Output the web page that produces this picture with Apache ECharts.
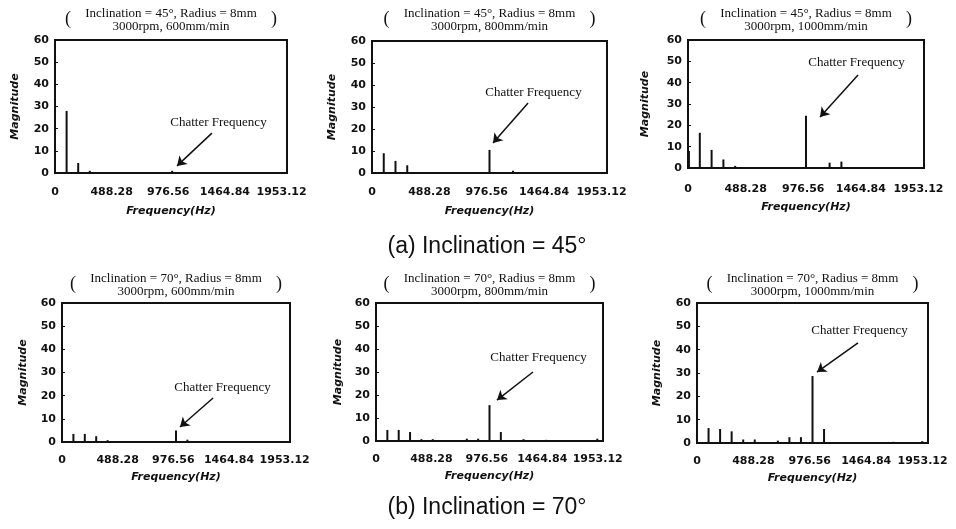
<!DOCTYPE html>
<html><head><meta charset="utf-8">
<script src="https://cdn.jsdelivr.net/npm/echarts@6/dist/echarts.min.js"></script>
<style>html,body{margin:0;padding:0;background:#fff}#c{width:956px;height:529px}</style>
</head><body><div id="c"></div>
<script>
// ---- data ----
const xTickValues = [0, 488.28, 976.56, 1464.84, 1953.12];
const xTickLabels = ['0', '488.28', '976.56', '1464.84', '1953.12'];
const yTickValues = [0, 10, 20, 30, 40, 50, 60];

const titleLine1 = [
  'Inclination = 45°, Radius = 8mm', 'Inclination = 45°, Radius = 8mm', 'Inclination = 45°, Radius = 8mm',
  'Inclination = 70°, Radius = 8mm', 'Inclination = 70°, Radius = 8mm', 'Inclination = 70°, Radius = 8mm'
];
const titleLine2 = [
  '3000rpm, 600mm/min', '3000rpm, 800mm/min', '3000rpm, 1000mm/min',
  '3000rpm, 600mm/min', '3000rpm, 800mm/min', '3000rpm, 1000mm/min'
];
const captions = ['(a) Inclination = 45°', '(b) Inclination = 70°'];
const xName = 'Frequency(Hz)';
const yName = 'Magnitude';
const chatterLabel = 'Chatter Frequency';

// spectra (frequency in Hz, magnitude)
const p1Freq = [100, 200, 300, 1010];
const p1Mag  = [28, 4.5, 1, 1];
const p2Freq = [100, 200, 300, 1000, 1200];
const p2Mag  = [9, 5.5, 3.5, 10.5, 1];
const p3Freq = [8, 100, 200, 300, 400, 1000, 1200, 1300];
const p3Mag  = [8, 16.5, 8.5, 4, 1, 24.5, 2.5, 3];
const p4Freq = [100, 200, 300, 400, 1000, 1100];
const p4Mag  = [3.5, 3.5, 2.5, 0.8, 5, 1];
const p5Freq = [100, 200, 300, 400, 500, 800, 900, 1000, 1100, 1300, 1500, 1950];
const p5Mag  = [4.8, 4.8, 3.9, 0.8, 0.8, 1, 1, 15.6, 3.9, 0.8, 0.5, 1];
const p6Freq = [100, 200, 300, 400, 500, 700, 800, 900, 1000, 1100, 1700, 1950];
const p6Mag  = [6.4, 6, 5, 1.5, 1.5, 1, 2.5, 2.5, 28.7, 6, 0.5, 0.8];

const freqs = [p1Freq, p2Freq, p3Freq, p4Freq, p5Freq, p6Freq];
const mags  = [p1Mag, p2Mag, p3Mag, p4Mag, p5Mag, p6Mag];

// ---- layout (pixels / data-unit annotation anchors) ----
const grids = [
  {left: 55,  top: 40,  width: 232, height: 133, lblMargin: 14, xGap: 33, yGap: 34},
  {left: 372, top: 41,  width: 235, height: 132, lblMargin: 14, xGap: 33, yGap: 34},
  {left: 688, top: 40,  width: 236, height: 128, lblMargin: 16, xGap: 34, yGap: 37},
  {left: 62,  top: 303, width: 228, height: 139, lblMargin: 13, xGap: 30, yGap: 33},
  {left: 376, top: 303, width: 227, height: 138, lblMargin: 13, xGap: 30, yGap: 32},
  {left: 697, top: 303, width: 231, height: 140, lblMargin: 13, xGap: 30, yGap: 34}
];
const notes = [
  {text: [1409, 22.6], from: [1353, 18],   to: [1052, 3.2]},
  {text: [1374, 36.4], from: [1328, 31.8], to: [1030, 13.6]},
  {text: [1428, 49.2], from: [1441, 43.6], to: [1119, 23.9]},
  {text: [1408, 23.7], from: [1325, 19],   to: [1035, 6.5]},
  {text: [1432, 36.1], from: [1383, 30],   to: [1066, 17.8]},
  {text: [1407, 48],   from: [1394, 42.9], to: [1039, 30.4]}
];
const titleY = [[14, 27], [279, 292]];
const captionY = [247, 508];
const captionX = 487;

const INK = '#111';
const serif = '"Liberation Serif", "DejaVu Serif", serif';
const sans = '"DejaVu Sans", sans-serif';

const option = {
  backgroundColor: '#fff',
  animation: false,
  grid: [], xAxis: [], yAxis: [], series: [], graphic: []
};

grids.forEach((g, i) => {
  option.grid.push({left: g.left, top: g.top, width: g.width, height: g.height,
    show: true, borderColor: INK, borderWidth: 2, backgroundColor: 'transparent'});
  option.xAxis.push({
    type: 'value', gridIndex: i, min: 0, max: 2000, interval: 488.28,
    name: xName, nameLocation: 'middle', nameGap: g.xGap,
    nameTextStyle: {fontFamily: sans, fontWeight: 'bold', fontStyle: 'italic', fontSize: 11, color: INK},
    axisLine: {show: true, lineStyle: {color: INK, width: 2}},
    axisTick: {show: false},
    splitLine: {show: false},
    axisLabel: {
      showMaxLabel: false, margin: g.lblMargin,
      fontFamily: sans, fontWeight: 'bold', fontSize: 11, color: INK,
      formatter: v => {
        const k = xTickValues.findIndex(t => Math.abs(t - v) < 0.01);
        return k >= 0 ? xTickLabels[k] : '';
      }
    }
  });
  option.yAxis.push({
    type: 'value', gridIndex: i, min: yTickValues[0], max: yTickValues[yTickValues.length - 1], interval: 10,
    name: yName, nameLocation: 'middle', nameGap: g.yGap, nameRotate: 90,
    nameTextStyle: {fontFamily: sans, fontWeight: 'bold', fontStyle: 'italic', fontSize: 11, color: INK},
    axisLine: {show: true, lineStyle: {color: INK, width: 2}},
    axisTick: {show: true, inside: true, length: 3, lineStyle: {color: INK}},
    splitLine: {show: false},
    axisLabel: {margin: 6, fontFamily: sans, fontWeight: 'bold', fontSize: 11, color: INK}
  });
  const n = notes[i];
  option.series.push({
    type: 'bar', xAxisIndex: i, yAxisIndex: i, barWidth: 2,
    itemStyle: {color: INK},
    data: freqs[i].map((f, k) => [f, mags[i][k]]),
    markLine: {
      silent: true, symbol: ['none', 'arrow'], symbolSize: 9,
      lineStyle: {color: INK, width: 1.5, type: 'solid'},
      label: {show: false},
      data: [[{coord: n.from}, {coord: n.to}]]
    },
    markPoint: {
      silent: true, symbol: 'circle', symbolSize: 0,
      label: {show: true, position: 'inside', formatter: chatterLabel,
        fontFamily: serif, fontSize: 13, color: INK},
      data: [{coord: n.text}]
    }
  });
  // panel title with parentheses
  const row = i < 3 ? 0 : 1;
  const cx = g.left + g.width / 2;
  const ty = titleY[row];
  option.graphic.push(
    {type: 'text', x: cx, y: ty[0], style: {text: titleLine1[i], fill: INK, font: '13px ' + serif, textAlign: 'center', textVerticalAlign: 'middle'}},
    {type: 'text', x: cx, y: ty[1], style: {text: titleLine2[i], fill: INK, font: '13px ' + serif, textAlign: 'center', textVerticalAlign: 'middle'}},
    {type: 'text', x: cx - 103, y: (ty[0] + ty[1]) / 2 - 1, style: {text: '(', fill: INK, font: '18px ' + serif, textAlign: 'center', textVerticalAlign: 'middle'}},
    {type: 'text', x: cx + 103, y: (ty[0] + ty[1]) / 2 - 1, style: {text: ')', fill: INK, font: '18px ' + serif, textAlign: 'center', textVerticalAlign: 'middle'}}
  );
});

captions.forEach((c, r) => {
  option.graphic.push({type: 'text', x: captionX, y: captionY[r],
    style: {text: c, fill: INK, font: '23px "Liberation Sans", Arial, sans-serif', textAlign: 'center', textVerticalAlign: 'middle'}});
});

const chart = echarts.init(document.getElementById('c'));
chart.setOption(option);
</script>
</body></html>
